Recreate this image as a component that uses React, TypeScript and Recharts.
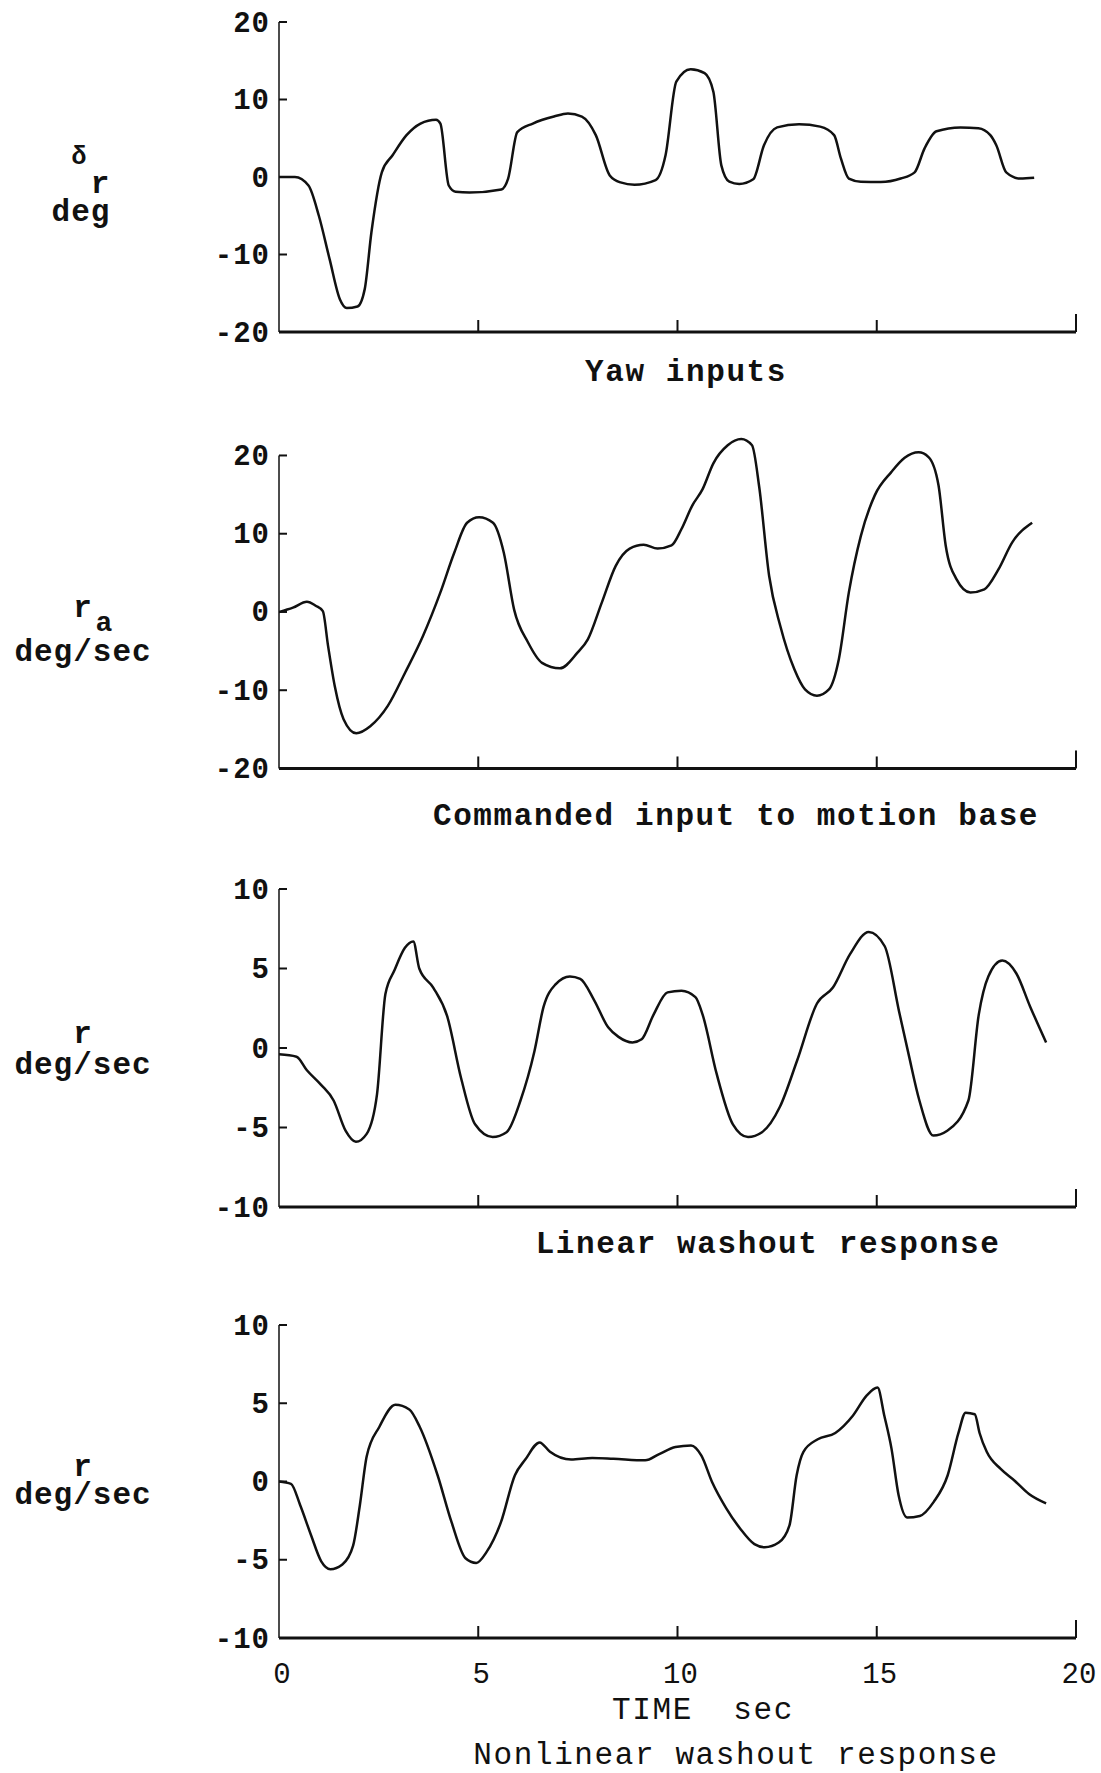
import React from 'react'
import { Line, LineChart, ReferenceLine, XAxis, YAxis } from 'recharts'

const FONT = '"Liberation Mono", "DejaVu Sans Mono", monospace'
const INK = '#111'

// Time axis, sec
const timeTicks = [0, 5, 10, 15, 20]
const deg20Ticks = [-20, -10, 0, 10, 20]
const deg10Ticks = [-10, -5, 0, 5, 10]

// [time sec, value] samples for each trace
const yawInput: [number, number][] = [
  [0, 0], [0.4, 0], [0.74, -1.1], [1.0, -5], [1.27, -10.6], [1.53, -15.8], [1.7, -16.9],
  [1.97, -16.7], [2.15, -14.5], [2.32, -7.1], [2.58, 0.6], [2.85, 2.8], [3.2, 5.4],
  [3.55, 6.9], [3.94, 7.4], [4.05, 6.9], [4.26, -1.1], [4.43, -1.9], [4.78, -2.0],
  [5.58, -1.6], [5.75, -0.2], [5.98, 5.8], [6.37, 6.9], [6.9, 7.8], [7.25, 8.2],
  [7.6, 7.8], [7.95, 5.4], [8.3, 0.2], [8.57, -0.7], [8.92, -1.0], [9.45, -0.4],
  [9.7, 2.8], [9.97, 12.3], [10.33, 13.9], [10.68, 13.4], [10.9, 11], [11.1, 1.5],
  [11.3, -0.6], [11.55, -0.9], [11.9, -0.3], [12.17, 4.1], [12.5, 6.4], [13.05, 6.8],
  [13.58, 6.5], [13.93, 5.4], [14.1, 2.4], [14.3, -0.2], [14.6, -0.6], [15.1, -0.65],
  [15.6, -0.2], [15.95, 0.6], [16.2, 3.7], [16.5, 5.9], [17.1, 6.4], [17.55, 6.3],
  [17.85, 5.4], [18.0, 4.1], [18.25, 0.6], [18.6, -0.2], [18.95, -0.1],
]

const commandedRate: [number, number][] = [
  [0, 0], [0.35, 0.55], [0.7, 1.3], [0.92, 0.8], [1.1, 0.1], [1.23, -4.3], [1.4, -9.5],
  [1.62, -13.7], [1.94, -15.5], [2.29, -14.6], [2.73, -12], [3.17, -7.7], [3.61, -3.1],
  [4.05, 2.5], [4.4, 7.6], [4.72, 11.4], [5.02, 12.1], [5.37, 11.4], [5.64, 7.6],
  [5.9, 0.3], [6.25, -3.9], [6.6, -6.5], [7.05, -7.2], [7.49, -5.2], [7.75, -3.5],
  [8.1, 1.2], [8.45, 5.9], [8.8, 8.1], [9.15, 8.6], [9.5, 8.1], [9.85, 8.5], [10.1, 10.6],
  [10.37, 13.6], [10.63, 15.7], [10.9, 19], [11.26, 21.3], [11.6, 22.1], [11.87, 21.3],
  [12.05, 16], [12.3, 4.6], [12.58, -1.8], [12.93, -7.3], [13.2, -9.9], [13.5, -10.7],
  [13.8, -9.9], [14.05, -6], [14.3, 2.5], [14.6, 9.7], [14.95, 14.9], [15.37, 17.9],
  [15.7, 19.7], [16.05, 20.4], [16.3, 19.8], [16.55, 16.2], [16.73, 8.5], [17.0, 4.2],
  [17.35, 2.5], [17.7, 2.9], [18.05, 5.4], [18.4, 8.9], [18.9, 11.4],
]

const linearRate: [number, number][] = [
  [0, -0.4], [0.44, -0.55], [0.7, -1.4], [1.05, -2.3], [1.37, -3.3], [1.67, -5.2],
  [1.93, -5.9], [2.2, -5.4], [2.46, -2.9], [2.67, 3.4], [2.9, 4.9], [3.16, 6.3],
  [3.37, 6.7], [3.52, 5.0], [3.87, 3.8], [4.22, 2.0], [4.57, -1.9], [4.92, -4.8],
  [5.36, -5.6], [5.71, -5.3], [6.06, -3.3], [6.41, -0.2], [6.64, 2.6], [6.94, 4.0],
  [7.3, 4.5], [7.56, 4.35], [7.91, 3.0], [8.26, 1.3], [8.52, 0.7], [8.87, 0.35],
  [9.1, 0.55], [9.4, 2.1], [9.75, 3.5], [10.1, 3.6], [10.45, 3.2], [10.63, 2.1],
  [10.98, -1.6], [11.39, -4.8], [11.77, -5.6], [12.12, -5.3], [12.57, -3.7], [13.0, -0.8],
  [13.5, 2.8], [13.9, 3.8], [14.33, 5.9], [14.8, 7.3], [15.2, 6.4], [15.56, 2.3],
  [15.8, -0.4], [16.07, -3.3], [16.42, -5.5], [16.77, -5.2], [17.3, -3.3], [17.56, 2.1],
  [17.8, 4.5], [18.15, 5.5], [18.5, 4.7], [18.85, 2.6], [19.25, 0.35],
]

const nonlinearRate: [number, number][] = [
  [0, 0], [0.3, -0.15], [0.53, -1.5], [0.8, -3.4], [1.06, -5.1], [1.29, -5.6], [1.59, -5.3],
  [1.86, -4.1], [2.03, -1.5], [2.2, 1.6], [2.52, 3.5], [2.92, 4.9], [3.27, 4.6], [3.53, 3.5],
  [3.98, 0.4], [4.33, -2.6], [4.68, -4.9], [4.95, -5.2], [5.21, -4.5], [5.57, -2.6],
  [5.92, 0.4], [6.18, 1.4], [6.54, 2.5], [6.8, 1.9], [7.33, 1.4], [7.86, 1.5], [8.39, 1.45],
  [9.19, 1.35], [9.54, 1.75], [9.95, 2.2], [10.34, 2.3], [10.6, 1.65], [10.87, -0.05],
  [11.22, -1.7], [11.57, -3.0], [11.93, -4.0], [12.19, -4.2], [12.54, -3.9], [12.81, -2.8],
  [12.99, 0.4], [13.16, 1.9], [13.52, 2.7], [13.96, 3.1], [14.4, 4.2], [14.75, 5.5],
  [15.02, 6.0], [15.19, 4.2], [15.37, 2.1], [15.55, -0.9], [15.76, -2.3], [16.08, -2.2],
  [16.43, -1.3], [16.78, 0.4], [17.05, 3.1], [17.23, 4.4], [17.46, 4.3], [17.58, 3.1],
  [17.76, 1.9], [18.11, 0.8], [18.46, 0.05], [18.82, -0.8], [19.25, -1.4],
]

const PAGE_W = 1101
const PLOT_LEFT = 279
const PLOT_RIGHT = 1076
const PAD_TOP = 20

const toRows = (pts: [number, number][]) => pts.map(([t, v]) => ({ t, v }))

function TimeTick(props: any) {
  const { x, y, payload, showLabel } = props
  const v = payload.value
  const len = v === 20 ? 18 : 12
  return (
    <g>
      {v > 0 && <line x1={x} y1={y} x2={x} y2={y - len} stroke={INK} strokeWidth={2} />}
      {showLabel && (
        <text
          x={x + 3}
          y={y + 37}
          textAnchor="middle"
          dominantBaseline="central"
          fontFamily={FONT}
          fontSize={29}
          fill={INK}
        >
          {v}
        </text>
      )}
    </g>
  )
}

function ValueTick(props: any) {
  const { x, y, payload, floor } = props
  return (
    <g>
      {payload.value !== floor && (
        <line x1={x} y1={y} x2={x + 8} y2={y} stroke={INK} strokeWidth={2} />
      )}
      <text
        x={x - 9}
        y={y + 2}
        textAnchor="end"
        dominantBaseline="central"
        fontFamily={FONT}
        fontWeight="bold"
        fontSize={29}
        letterSpacing={1}
        fill={INK}
      >
        {payload.value}
      </text>
    </g>
  )
}

type PanelProps = {
  points: [number, number][]
  domain: [number, number]
  ticks: number[]
  top: number
  bottom: number
  headroom?: number
  timeLabels?: boolean
}

// top/bottom are the page rows of the domain ends; headroom lets a trace run above the top tick
function Panel({ points, domain, ticks, top, bottom, headroom = 0, timeLabels = false }: PanelProps) {
  const [lo, hi] = domain
  const axisH = timeLabels ? 60 : 22
  const extraPx = (headroom * (bottom - top)) / (hi - lo)
  const height = PAD_TOP + extraPx + (bottom - top) + axisH
  return (
    <div style={{ position: 'absolute', left: 0, top: top - extraPx - PAD_TOP }}>
      <LineChart
        width={PAGE_W}
        height={height}
        data={toRows(points)}
        margin={{ top: PAD_TOP, right: PAGE_W - PLOT_RIGHT, bottom: 0, left: 0 }}
      >
        <XAxis
          type="number"
          dataKey="t"
          domain={[0, 20]}
          ticks={timeTicks}
          interval={0}
          allowDataOverflow
          height={axisH}
          tickSize={0}
          tickMargin={0}
          tickLine={false}
          axisLine={{ stroke: INK, strokeWidth: 3 }}
          tick={(p: any) => <TimeTick {...p} showLabel={timeLabels} />}
        />
        <YAxis
          type="number"
          domain={[lo, hi + headroom]}
          ticks={ticks}
          interval={0}
          allowDataOverflow
          width={PLOT_LEFT}
          tickSize={0}
          tickMargin={0}
          tickLine={false}
          axisLine={false}
          tick={(p: any) => <ValueTick {...p} floor={lo} />}
        />
        <ReferenceLine
          segment={[
            { x: 0, y: lo },
            { x: 0, y: hi },
          ]}
          stroke={INK}
          strokeWidth={1.5}
          ifOverflow="visible"
        />
        <Line
          type="monotone"
          dataKey="v"
          stroke={INK}
          strokeWidth={2.5}
          dot={false}
          isAnimationActive={false}
        />
      </LineChart>
    </div>
  )
}

function Caption({
  x,
  y,
  size = 31,
  bold = false,
  spacing = 1.6,
  lineHeight = 0.8,
  align = 'center',
  children,
}: {
  x: number
  y: number
  size?: number
  bold?: boolean
  spacing?: number
  lineHeight?: number | string
  align?: 'left' | 'center'
  children: React.ReactNode
}) {
  return (
    <div
      style={{
        position: 'absolute',
        left: x,
        top: y,
        transform: 'translate(-50%, -50%)',
        fontFamily: FONT,
        fontSize: size,
        fontWeight: bold ? 700 : 400,
        lineHeight,
        textAlign: align,
        whiteSpace: 'pre',
        color: INK,
        letterSpacing: spacing,
      }}
    >
      {children}
    </div>
  )
}

export default function App() {
  return (
    <div
      style={{
        position: 'absolute',
        left: 0,
        top: 0,
        width: PAGE_W,
        height: 1773,
        background: '#fff',
        overflow: 'hidden',
      }}
    >
      <Panel points={yawInput} domain={[-20, 20]} ticks={deg20Ticks} top={22} bottom={332} />
      <Panel
        points={commandedRate}
        domain={[-20, 20]}
        ticks={deg20Ticks}
        top={455}
        bottom={768}
        headroom={3}
      />
      <Panel points={linearRate} domain={[-10, 10]} ticks={deg10Ticks} top={889} bottom={1207} />
      <Panel
        points={nonlinearRate}
        domain={[-10, 10]}
        ticks={deg10Ticks}
        top={1325}
        bottom={1638}
        timeLabels
      />

      {/* axis names */}
      <Caption x={79} y={158} size={25} bold spacing={0}>δ</Caption>
      <Caption x={81} y={199} bold spacing={1} lineHeight="28px" align="left">{'  r\ndeg'}</Caption>

      <Caption x={104} y={624} size={28} bold spacing={0}>a</Caption>
      <Caption x={83} y={631} bold spacing={1} lineHeight="44px">{'r\ndeg/sec'}</Caption>

      <Caption x={83} y={1050} bold spacing={1} lineHeight="31px">{'r\ndeg/sec'}</Caption>

      <Caption x={83} y={1482} bold spacing={1} lineHeight="28px">{'r\ndeg/sec'}</Caption>

      {/* panel captions */}
      <Caption x={686} y={373} bold>Yaw inputs</Caption>
      <Caption x={736} y={817} bold>Commanded input to motion base</Caption>
      <Caption x={768} y={1245} bold>Linear washout response</Caption>
      <Caption x={703} y={1711}>TIME  sec</Caption>
      <Caption x={736} y={1756}>Nonlinear washout response</Caption>
    </div>
  )
}
